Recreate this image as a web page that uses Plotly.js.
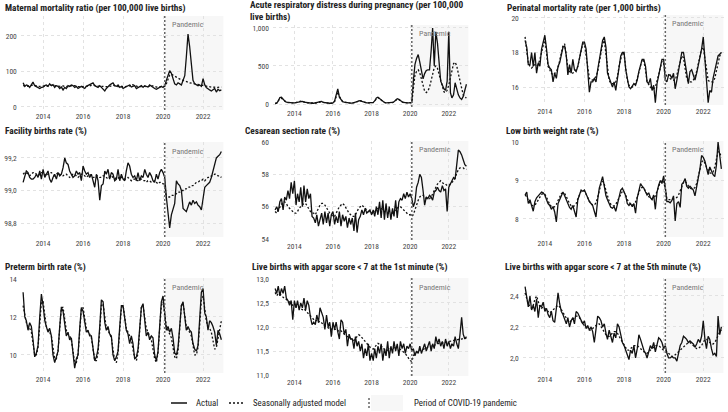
<!DOCTYPE html>
<html><head><meta charset="utf-8">
<script src="https://cdn.plot.ly/plotly-3.0.1.min.js"></script>
<style>html,body{margin:0;padding:0;background:#fff;}#chart{width:728px;height:412px;}</style>
</head><body><div id="chart"></div>
<script>
// ---------- DATA ----------
const startYear = 2013, nMonths = 120;
const months = [];
for (let i = 0; i < nMonths; i++) {
  const y = startYear + Math.floor(i / 12), m = i % 12 + 1;
  months.push(y + '-' + String(m).padStart(2, '0') + '-01');
}
const pandemicStart = '2020-02-01';

const titles = [
  'Maternal mortality ratio (per 100,000 live births)',
  'Acute respiratory distress during pregnancy (per 100,000<br>live births)',
  'Perinatal mortality rate (per 1,000 births)',
  'Facility births rate (%)',
  'Cesarean section rate (%)',
  'Low birth weight rate (%)',
  'Preterm birth rate (%)',
  'Live births with apgar score &lt; 7 at the 1st minute (%)',
  'Live births with apgar score &lt; 7 at the 5th minute (%)'
];

const matAct = [68,58,62,60,55,65,70,60,58,55,52,55,
 56,60,62,58,65,60,63,55,60,58,52,56,
 48,55,52,60,58,62,60,55,58,52,55,58,
 55,52,58,60,62,66,68,60,58,55,60,56,
 50,45,52,58,62,65,68,60,58,62,55,58,
 52,55,58,60,62,56,58,60,52,55,58,60,
 55,60,58,56,62,58,55,52,50,52,55,58,
 55,60,75,88,102,95,80,65,62,68,65,62,
 75,88,140,205,170,110,75,65,62,60,62,58,
 80,62,55,50,48,45,48,52,42,50,46,48];
const matMod = [60,59,58,58,59,61,62,61,59,58,58,59,
 60,59,58,58,60,61,62,61,59,58,57,58,
 59,58,57,57,58,60,61,60,58,57,57,58,
 59,58,58,58,59,61,62,61,59,58,57,58,
 58,57,57,57,58,60,61,60,58,57,57,58,
 58,57,57,58,59,64,62,60,58,57,57,58,
 58,58,57,57,58,60,60,58,56,56,57,58,
 57,58,65,78,90,92,89,86,83,80,78,76,
 75,74,72,70,68,67,65,64,63,62,61,60,
 60,59,58,57,57,56,56,55,55,55,56,56];

const ardAct = [5,10,40,85,90,60,40,25,20,15,15,15,
 15,20,25,35,40,35,25,20,15,15,12,10,
 10,12,15,25,30,35,20,15,12,10,10,10,
 15,40,120,200,90,50,30,25,20,15,15,12,
 12,15,20,30,40,45,35,25,20,15,15,15,
 15,20,40,80,90,70,50,30,20,15,15,15,
 15,20,30,50,70,60,40,30,20,15,15,15,
 15,20,300,520,600,650,550,450,330,400,440,450,
 450,700,1000,500,950,800,500,300,250,200,180,300,
 950,150,80,120,280,200,120,80,60,100,200,260];
const ardMod = [8,15,40,70,75,55,38,25,18,15,14,14,
 14,18,24,32,38,34,26,20,16,14,12,11,
 11,13,16,24,30,32,22,16,13,11,10,10,
 13,30,90,160,100,55,32,24,18,15,14,12,
 12,14,20,30,38,42,34,25,19,15,14,14,
 14,18,35,70,85,68,48,30,20,15,14,14,
 14,18,28,48,65,58,40,28,19,15,14,14,
 14,18,200,380,430,450,410,330,240,170,150,170,
 220,310,410,480,500,470,390,300,220,160,150,180,
 250,350,450,530,550,500,400,290,190,120,90,80];

const periAct = [18.7,18.3,17.3,17.3,18.0,17.2,18.0,16.8,17.4,17.2,18.2,18.6,
 19.0,18.2,17.3,17.1,17.0,16.3,16.8,16.5,17.2,17.4,17.9,18.3,
 18.4,17.8,16.7,17.3,16.8,17.6,17.0,16.9,17.2,17.7,18.2,18.6,
 18.6,18.2,17.0,15.7,16.3,16.3,16.5,16.3,17.0,17.6,18.3,18.7,
 18.9,18.3,16.8,16.5,16.2,16.0,16.3,15.8,16.5,17.3,17.8,18.0,
 18.0,17.0,16.4,16.0,15.9,16.1,16.2,16.1,16.4,16.9,17.3,17.6,
 17.6,17.2,16.3,16.2,16.5,15.8,16.1,15.1,16.2,16.6,17.1,17.6,
 17.6,16.4,16.3,16.7,16.7,16.5,16.8,15.9,16.4,17.0,17.6,18.0,
 18.0,17.3,16.6,16.2,16.9,17.0,16.7,16.4,16.8,17.3,17.6,18.2,
 18.9,17.5,16.3,15.1,15.8,15.7,16.5,17.0,17.5,17.8,17.9,18.0];
const periMod = [18.9,18.0,17.4,17.2,17.1,17.2,17.3,17.2,17.3,17.6,18.0,18.5,
 18.8,18.0,17.2,17.0,16.8,16.7,16.8,16.9,17.1,17.5,18.0,18.4,
 18.5,17.9,17.1,16.9,16.8,16.8,16.9,17.0,17.2,17.6,18.1,18.5,
 18.5,17.8,16.9,16.5,16.4,16.4,16.5,16.6,16.9,17.4,18.0,18.5,
 18.7,17.9,16.9,16.4,16.2,16.2,16.2,16.3,16.6,17.2,17.7,18.0,
 17.9,17.1,16.4,16.1,16.0,16.0,16.1,16.2,16.5,16.9,17.3,17.6,
 17.5,17.0,16.3,16.1,16.0,15.9,15.9,16.0,16.3,16.7,17.1,17.5,
 17.4,16.8,16.6,16.7,16.5,16.4,16.4,16.4,16.7,17.1,17.5,17.8,
 17.7,17.1,16.5,16.3,16.3,16.3,16.4,16.6,16.9,17.3,17.8,18.2,
 18.3,17.6,16.8,16.4,16.3,16.3,16.3,16.5,16.9,17.3,17.8,18.0];

const facAct = [99.05,99.09,99.12,99.11,99.08,99.07,99.07,99.08,99.10,99.08,99.12,99.07,
 99.13,99.08,99.10,99.12,99.07,99.05,99.08,99.10,99.07,99.11,99.09,99.10,
 99.14,99.20,99.17,99.16,99.12,99.10,99.08,99.09,99.12,99.10,99.11,99.06,
 99.15,99.12,99.10,99.11,99.08,99.10,99.05,99.02,99.10,99.06,98.94,99.03,
 99.04,99.12,99.10,99.13,99.07,99.11,99.10,99.06,99.07,99.13,99.06,99.10,
 99.07,99.06,99.12,99.17,99.15,99.10,99.08,99.09,99.06,99.11,99.06,99.09,
 99.08,99.13,99.10,99.08,99.11,99.09,99.06,99.05,99.10,99.07,99.11,99.13,
 99.11,99.08,98.96,98.88,98.77,98.85,98.88,98.92,99.06,99.04,99.03,99.00,
 98.89,98.88,98.87,98.90,98.93,98.91,98.94,98.92,98.93,98.91,98.90,98.88,
 98.95,99.02,99.03,99.04,99.05,99.08,99.12,99.16,99.20,99.21,99.22,99.24];
const facMod = [99.10,99.11,99.11,99.10,99.09,99.10,99.11,99.11,99.10,99.09,99.10,99.11,
 99.11,99.10,99.09,99.10,99.11,99.11,99.10,99.09,99.10,99.11,99.10,99.09,
 99.09,99.10,99.10,99.09,99.08,99.09,99.10,99.10,99.09,99.08,99.09,99.10,
 99.10,99.09,99.08,99.09,99.10,99.09,99.08,99.08,99.09,99.09,99.08,99.08,
 99.09,99.09,99.08,99.07,99.08,99.09,99.08,99.07,99.08,99.08,99.07,99.08,
 99.08,99.07,99.07,99.08,99.07,99.06,99.07,99.07,99.06,99.06,99.07,99.07,
 99.06,99.06,99.05,99.06,99.06,99.05,99.05,99.06,99.05,99.04,99.05,99.05,
 99.04,99.04,98.95,98.96,98.96,98.97,98.97,98.98,98.98,98.99,98.99,99.00,
 99.00,99.01,99.01,99.02,99.02,99.03,99.03,99.04,99.05,99.05,99.06,99.06,
 99.07,99.06,99.07,99.08,99.08,99.09,99.09,99.10,99.10,99.09,99.09,99.08];

const cesAct = [55.8,56.0,55.7,56.3,56.5,55.8,56.6,56.4,57.0,56.5,57.5,56.8,
 57.6,56.1,56.8,56.3,57.2,56.0,57.3,56.3,57.1,56.5,56.8,55.4,
 55.3,55.0,55.5,54.8,55.2,55.6,54.9,55.7,55.0,55.6,54.8,55.5,
 55.7,54.9,55.4,55.0,55.7,54.8,55.5,55.1,55.4,54.7,55.3,54.9,
 55.3,54.5,55.6,54.4,55.2,55.4,55.8,55.5,55.9,55.6,55.7,55.8,
 55.5,55.8,55.4,56.0,55.5,56.3,55.3,56.4,55.2,56.2,55.3,56.0,
 55.2,55.9,55.4,56.4,55.3,56.3,56.5,56.4,56.8,56.5,56.9,56.6,
 56.8,56.5,56.0,56.3,57.2,57.5,58.0,57.8,57.0,56.1,56.6,56.5,
 56.7,56.6,56.4,56.9,57.0,57.2,57.0,56.9,57.3,57.0,57.1,55.7,
 57.2,57.4,57.5,57.8,57.7,58.6,59.5,59.4,59.2,58.9,58.6,58.5];
const cesMod = [55.7,55.6,55.8,56.0,56.2,56.3,56.3,56.2,56.0,55.9,55.8,55.7,
 55.6,55.6,55.7,55.9,56.0,56.1,56.2,56.2,56.0,55.8,55.7,55.6,
 55.6,55.5,55.7,55.9,56.1,56.2,56.2,56.1,55.9,55.8,55.6,55.5,
 55.4,55.4,55.6,55.8,56.0,56.1,56.2,56.1,55.9,55.7,55.6,55.5,
 55.4,55.4,55.5,55.7,55.9,56.0,56.1,56.0,55.9,55.8,55.7,55.7,
 55.6,55.6,55.7,55.8,55.9,55.9,55.9,55.8,55.7,55.7,55.6,55.6,
 55.6,55.6,55.7,55.8,55.9,56.0,56.0,55.9,55.8,55.7,55.6,55.5,
 55.5,55.4,55.5,55.8,56.2,56.4,56.6,56.7,56.7,56.6,56.5,56.5,
 56.5,56.6,56.8,57.0,57.2,57.4,57.5,57.6,57.5,57.4,57.4,57.3,
 57.3,57.4,57.5,57.6,57.8,58.1,58.3,58.4,58.4,58.4,58.3,58.3];

const lbwAct = [8.62,8.70,8.40,8.50,8.35,8.20,8.45,8.55,8.60,8.65,8.70,8.68,
 8.62,8.50,8.40,8.35,8.25,8.32,8.18,7.92,8.40,8.50,8.62,8.70,
 8.60,8.48,8.40,8.30,8.25,8.35,8.20,8.05,8.50,8.65,8.75,8.72,
 8.75,8.65,8.55,8.45,8.40,8.35,8.20,8.05,8.50,8.80,8.95,9.10,
 8.85,8.60,8.50,8.40,8.30,8.28,8.32,8.20,8.40,8.55,8.75,8.80,
 8.72,8.60,8.40,8.35,8.40,8.32,8.40,8.15,8.55,8.70,8.92,8.85,
 8.80,8.70,8.62,8.68,8.55,8.50,8.62,8.25,8.70,8.88,9.00,8.92,
 9.12,8.80,8.45,8.45,8.42,8.48,8.60,7.95,8.40,8.45,8.30,8.90,
 8.95,9.05,8.85,8.80,8.85,8.80,8.75,8.60,8.85,9.00,9.30,9.65,
 9.60,9.50,9.30,9.15,9.35,9.25,9.15,9.10,9.40,10.00,9.70,9.30];
const lbwMod = [8.62,8.58,8.48,8.40,8.36,8.34,8.36,8.42,8.50,8.58,8.64,8.66,
 8.64,8.56,8.46,8.38,8.32,8.30,8.32,8.38,8.48,8.58,8.66,8.68,
 8.66,8.58,8.48,8.40,8.34,8.32,8.34,8.40,8.52,8.64,8.72,8.74,
 8.72,8.64,8.54,8.46,8.40,8.36,8.36,8.42,8.56,8.74,8.90,8.98,
 8.90,8.74,8.58,8.46,8.38,8.34,8.34,8.38,8.46,8.56,8.66,8.72,
 8.70,8.62,8.50,8.42,8.38,8.36,8.38,8.44,8.56,8.70,8.80,8.82,
 8.80,8.72,8.64,8.58,8.54,8.52,8.54,8.60,8.72,8.86,8.96,9.00,
 8.98,8.80,8.52,8.50,8.50,8.50,8.52,8.54,8.56,8.62,8.72,8.85,
 8.95,8.98,8.92,8.85,8.80,8.78,8.78,8.82,8.92,9.10,9.30,9.48,
 9.52,9.45,9.35,9.25,9.20,9.18,9.22,9.35,9.55,9.75,9.72,9.60];

const ptbAct = [13.3,12.0,11.8,11.3,11.7,11.5,10.8,9.9,10.1,10.5,12.0,13.2,
 12.6,11.8,11.5,11.2,11.4,11.0,10.0,9.6,9.9,10.2,11.5,12.5,
 12.3,11.5,11.0,11.2,10.8,10.9,9.9,9.3,9.8,10.0,11.4,12.5,
 12.3,11.6,11.2,11.3,11.0,11.0,10.2,9.7,9.9,10.3,11.5,12.9,
 12.8,11.7,11.3,11.5,11.1,11.0,10.0,9.7,9.9,10.2,11.5,12.6,
 12.6,11.9,11.3,11.1,10.6,11.0,10.6,9.8,9.9,10.3,11.5,12.5,
 12.7,11.8,11.0,11.2,10.8,11.0,10.9,10.0,9.7,10.2,11.8,12.8,
 13.1,12.0,11.3,11.5,11.2,11.4,10.9,10.1,10.0,10.4,11.6,12.6,
 12.8,11.8,11.3,11.5,11.3,11.2,10.6,10.3,10.2,10.5,11.8,13.3,
 13.5,12.2,12.0,11.3,11.8,11.7,11.5,11.2,10.5,11.3,11.1,10.8];
const ptbMod = [12.6,12.2,11.7,11.5,11.4,11.2,10.6,10.0,10.0,10.4,11.6,12.8,
 12.8,12.0,11.5,11.3,11.2,11.0,10.4,9.8,9.8,10.2,11.4,12.5,
 12.5,11.8,11.3,11.1,11.0,10.8,10.2,9.6,9.6,10.0,11.2,12.4,
 12.5,11.8,11.4,11.2,11.1,10.9,10.3,9.7,9.7,10.1,11.3,12.6,
 12.7,11.9,11.4,11.3,11.1,10.9,10.3,9.7,9.6,10.1,11.3,12.5,
 12.6,11.9,11.4,11.2,11.0,10.8,10.3,9.8,9.7,10.1,11.3,12.5,
 12.6,11.9,11.4,11.2,11.0,10.8,10.3,9.8,9.6,10.1,11.4,12.6,
 12.8,12.0,11.5,11.3,11.1,10.9,10.4,9.9,9.8,10.2,11.4,12.6,
 12.7,12.0,11.5,11.3,11.2,11.0,10.5,10.0,10.0,10.4,11.6,12.9,
 13.1,12.3,11.8,11.5,11.4,11.2,10.7,10.3,10.4,10.9,11.5,11.8];

const ap1Act = [12.80,12.70,12.85,12.65,12.80,12.70,12.85,12.60,12.55,12.45,12.55,12.15,
 12.55,12.40,12.55,12.35,12.50,12.40,12.60,12.35,12.55,12.45,12.20,12.05,
 12.10,12.05,12.25,12.10,12.40,12.30,12.20,11.95,12.25,12.00,12.10,11.80,
 12.10,11.95,12.10,11.90,11.75,12.15,12.10,11.85,11.95,11.60,11.85,11.75,
 11.75,11.55,11.80,11.60,11.70,11.50,11.65,11.35,11.55,11.40,11.65,11.30,
 11.45,11.30,11.55,11.35,11.60,11.45,11.65,11.30,11.55,11.40,11.70,11.35,
 11.60,11.45,11.70,11.50,11.65,11.40,11.70,11.55,11.65,11.45,11.60,11.55,
 11.65,11.50,11.55,11.40,11.50,11.45,11.60,11.45,11.55,11.65,11.50,11.60,
 11.70,11.50,11.65,11.55,11.80,11.65,11.75,11.60,11.70,11.55,11.75,11.60,
 11.70,11.55,11.65,11.60,11.80,11.65,11.55,11.85,12.20,11.85,11.75,11.80];
const ap1Mod = [12.72,12.65,12.70,12.68,12.66,12.62,12.60,12.58,12.55,12.52,12.48,12.45,
 12.45,12.42,12.44,12.40,12.38,12.36,12.38,12.34,12.30,12.26,12.22,12.18,
 12.16,12.12,12.14,12.10,12.12,12.08,12.05,12.02,12.00,11.98,11.96,11.95,
 11.98,11.95,11.96,11.92,11.90,11.92,11.88,11.85,11.82,11.80,11.78,11.76,
 11.74,11.72,11.76,11.80,11.84,11.82,11.78,11.74,11.70,11.66,11.62,11.58,
 11.56,11.54,11.58,11.62,11.66,11.64,11.60,11.56,11.52,11.50,11.52,11.55,
 11.56,11.54,11.58,11.60,11.58,11.55,11.52,11.50,11.48,11.45,11.40,11.35,
 11.30,11.28,11.40,11.45,11.48,11.50,11.52,11.52,11.54,11.55,11.56,11.58,
 11.58,11.60,11.62,11.62,11.64,11.65,11.66,11.66,11.67,11.68,11.68,11.69,
 11.70,11.70,11.71,11.72,11.72,11.73,11.74,11.74,11.75,11.76,11.76,11.77];

const ap5Act = [2.46,2.38,2.33,2.40,2.31,2.34,2.30,2.38,2.26,2.34,2.33,2.36,
 2.30,2.32,2.28,2.26,2.30,2.24,2.23,2.32,2.42,2.35,2.30,2.28,
 2.25,2.22,2.26,2.20,2.24,2.26,2.22,2.30,2.29,2.27,2.24,2.22,
 2.24,2.19,2.21,2.18,2.20,2.17,2.10,2.18,2.27,2.26,2.24,2.20,
 2.22,2.16,2.12,2.18,2.14,2.10,2.16,2.13,2.22,2.20,2.15,2.10,
 2.08,2.05,2.02,1.99,2.05,2.03,2.08,2.00,2.06,2.15,2.12,2.08,
 2.05,2.03,2.00,2.04,2.08,2.06,2.10,2.04,2.08,2.13,2.12,2.10,
 2.06,2.08,2.03,2.00,2.00,2.01,2.00,2.00,1.98,2.03,2.08,2.10,
 2.14,2.13,2.12,2.10,2.11,2.10,2.09,2.07,2.09,2.12,2.10,2.14,
 2.24,2.12,2.06,2.14,2.12,2.06,2.02,2.03,2.01,2.27,2.15,2.20];
const ap5Mod = [2.42,2.38,2.35,2.33,2.32,2.34,2.38,2.40,2.36,2.33,2.32,2.33,
 2.32,2.31,2.30,2.29,2.30,2.31,2.32,2.33,2.34,2.33,2.31,2.29,
 2.27,2.25,2.24,2.23,2.24,2.25,2.26,2.27,2.27,2.26,2.24,2.22,
 2.21,2.20,2.19,2.18,2.18,2.19,2.20,2.21,2.22,2.22,2.20,2.18,
 2.17,2.15,2.14,2.14,2.15,2.16,2.17,2.17,2.16,2.14,2.12,2.10,
 2.08,2.06,2.05,2.05,2.06,2.07,2.08,2.08,2.08,2.07,2.06,2.05,
 2.04,2.03,2.03,2.04,2.05,2.06,2.07,2.08,2.08,2.08,2.07,2.06,
 2.05,2.05,2.04,2.03,2.02,2.01,2.01,2.02,2.03,2.04,2.05,2.06,
 2.07,2.08,2.09,2.10,2.10,2.09,2.08,2.07,2.06,2.06,2.07,2.08,
 2.10,2.12,2.12,2.11,2.10,2.09,2.09,2.10,2.12,2.15,2.17,2.18];

const actualSeries = [matAct, ardAct, periAct, facAct, cesAct, lbwAct, ptbAct, ap1Act, ap5Act];
const modelSeries  = [matMod, ardMod, periMod, facMod, cesMod, lbwMod, ptbMod, ap1Mod, ap5Mod];
const yTicks = [[0,100,200],[0,500,1000],[16,18,20],[98.8,99.0,99.2],[54,56,58,60],[8,9,10],[10,12,14],[11,11.5,12,12.5,13],[2.0,2.2,2.4]];
const yFormats = ['d', ',d', 'd', '.1f', 'd', 'd', 'd', '.1f', '.1f'];
const legendLabels = ['Actual', 'Seasonally adjusted model', 'Period of COVID-19 pandemic'];

// ---------- LAYOUT GEOMETRY (pixels) ----------
const W = 728, H = 412;
const xRange = ['2012-11-20', '2023-01-11'];
const colX = [[20.8, 223.6], [272.9, 468.6], [522.8, 723.6]];
const panelY = [[16,110],[25,107],[15,105],[142,237],[141,240],[141,237],[278,373],[278,376],[278,373]];
const yRanges = [[-8.5,256],[-39.5,1039],[14.96,20.17],[98.714,99.298],[53.94,60.06],[7.53,10.026],[9.05,14.05],[10.98,13.02],[1.903,2.516]];
const titlePos = [[3,8],[248,10.5],[505,8],[3,131],[243,131],[504,131],[3,267],[250,267],[503,267]];

const FONT = '"Roboto Condensed", Roboto, sans-serif';
const px = p => p / W, py = p => 1 - p / H;

const traces = [], shapes = [], annotations = [];
const layout = {
  width: W, height: H, margin: {l:0, r:0, t:0, b:0},
  paper_bgcolor: '#fff', plot_bgcolor: 'rgba(0,0,0,0)',
  showlegend: false, separators: ',,',
  font: {family: FONT, color: '#333'}
};

for (let i = 0; i < 9; i++) {
  const n = i + 1, sfx = n === 1 ? '' : String(n);
  const col = i % 3;
  const [top, bot] = panelY[i];
  layout['xaxis' + sfx] = {
    type: 'date', range: xRange, domain: [px(colX[col][0]), px(colX[col][1])],
    anchor: 'y' + sfx, tickformat: '%Y', dtick: 'M24', tick0: '2014-01-01',
    showgrid: true, gridcolor: '#e2e2e2', griddash: 'dot', gridwidth: 1,
    zeroline: false, showline: false, ticks: '', fixedrange: true,
    tickfont: {size: 7.5, color: '#444', family: FONT}
  };
  layout['yaxis' + sfx] = {
    range: yRanges[i], domain: [py(bot), py(top)], anchor: 'x' + sfx,
    tickvals: yTicks[i], tickformat: yFormats[i], ticklabelstandoff: 3,
    showgrid: true, gridcolor: '#e2e2e2', griddash: 'dot', gridwidth: 1,
    zeroline: false, showline: false, ticks: '', fixedrange: true,
    tickfont: {size: 7.5, color: '#444', family: FONT}
  };
  shapes.push({type:'rect', xref:'x'+sfx, yref:'y'+sfx+' domain', x0: pandemicStart, x1: xRange[1], y0:0, y1:1,
    fillcolor:'#f7f7f7', line:{width:0}, layer:'below'});
  shapes.push({type:'line', xref:'x'+sfx, yref:'y'+sfx+' domain', x0: pandemicStart, x1: pandemicStart, y0:0, y1:1,
    line:{color:'#666', width:1.5, dash:'2px,2px'}, layer:'above'});
  annotations.push({xref:'x'+sfx, yref:'y'+sfx+' domain', x: pandemicStart, y: 1, xanchor:'left', yanchor:'middle',
    xshift: 5, yshift: -9, text:'Pandemic', showarrow:false, font:{size:8, color:'#777', family: FONT}});
  annotations.push({xref:'paper', yref:'paper', x: px(titlePos[i][0]), y: py(titlePos[i][1]), xanchor:'left',
    yanchor: 'middle', align:'left', text: '<b>' + titles[i] + '</b>', showarrow:false,
    font:{size:9.3, color:'#222', family: FONT}});
  traces.push({x: months, y: modelSeries[i], xaxis:'x'+sfx, yaxis:'y'+sfx, mode:'lines', hoverinfo:'skip',
    line:{color:'#111', width:1.3, dash:'2px,2px'}});
  traces.push({x: months, y: actualSeries[i], xaxis:'x'+sfx, yaxis:'y'+sfx, mode:'lines', hoverinfo:'skip',
    line:{color:'#111', width:1.3}});
}

// ---------- custom legend ----------
const LY = 403;
shapes.push({type:'line', xref:'paper', yref:'paper', x0:px(171), x1:px(187), y0:py(LY), y1:py(LY), line:{color:'#111', width:1.5}});
shapes.push({type:'line', xref:'paper', yref:'paper', x0:px(229), x1:px(245), y0:py(LY), y1:py(LY), line:{color:'#111', width:1.3, dash:'2px,2px'}});
shapes.push({type:'rect', xref:'paper', yref:'paper', x0:px(371), x1:px(403), y0:py(LY+8), y1:py(LY-8), fillcolor:'#f7f7f7', line:{width:0}});
shapes.push({type:'line', xref:'paper', yref:'paper', x0:px(369), x1:px(369), y0:py(LY+5), y1:py(LY-5), line:{color:'#666', width:1.5, dash:'2px,2px'}});
[[194, 0], [251, 1], [412, 2]].forEach(([x, k]) => annotations.push({xref:'paper', yref:'paper', x:px(x), y:py(LY),
  xanchor:'left', yanchor:'middle', text: legendLabels[k], showarrow:false, font:{size:8.8, color:'#222', family: FONT}}));

layout.shapes = shapes;
layout.annotations = annotations;
Plotly.newPlot('chart', traces, layout, {staticPlot: true, displayModeBar: false});
</script>
</body></html>
